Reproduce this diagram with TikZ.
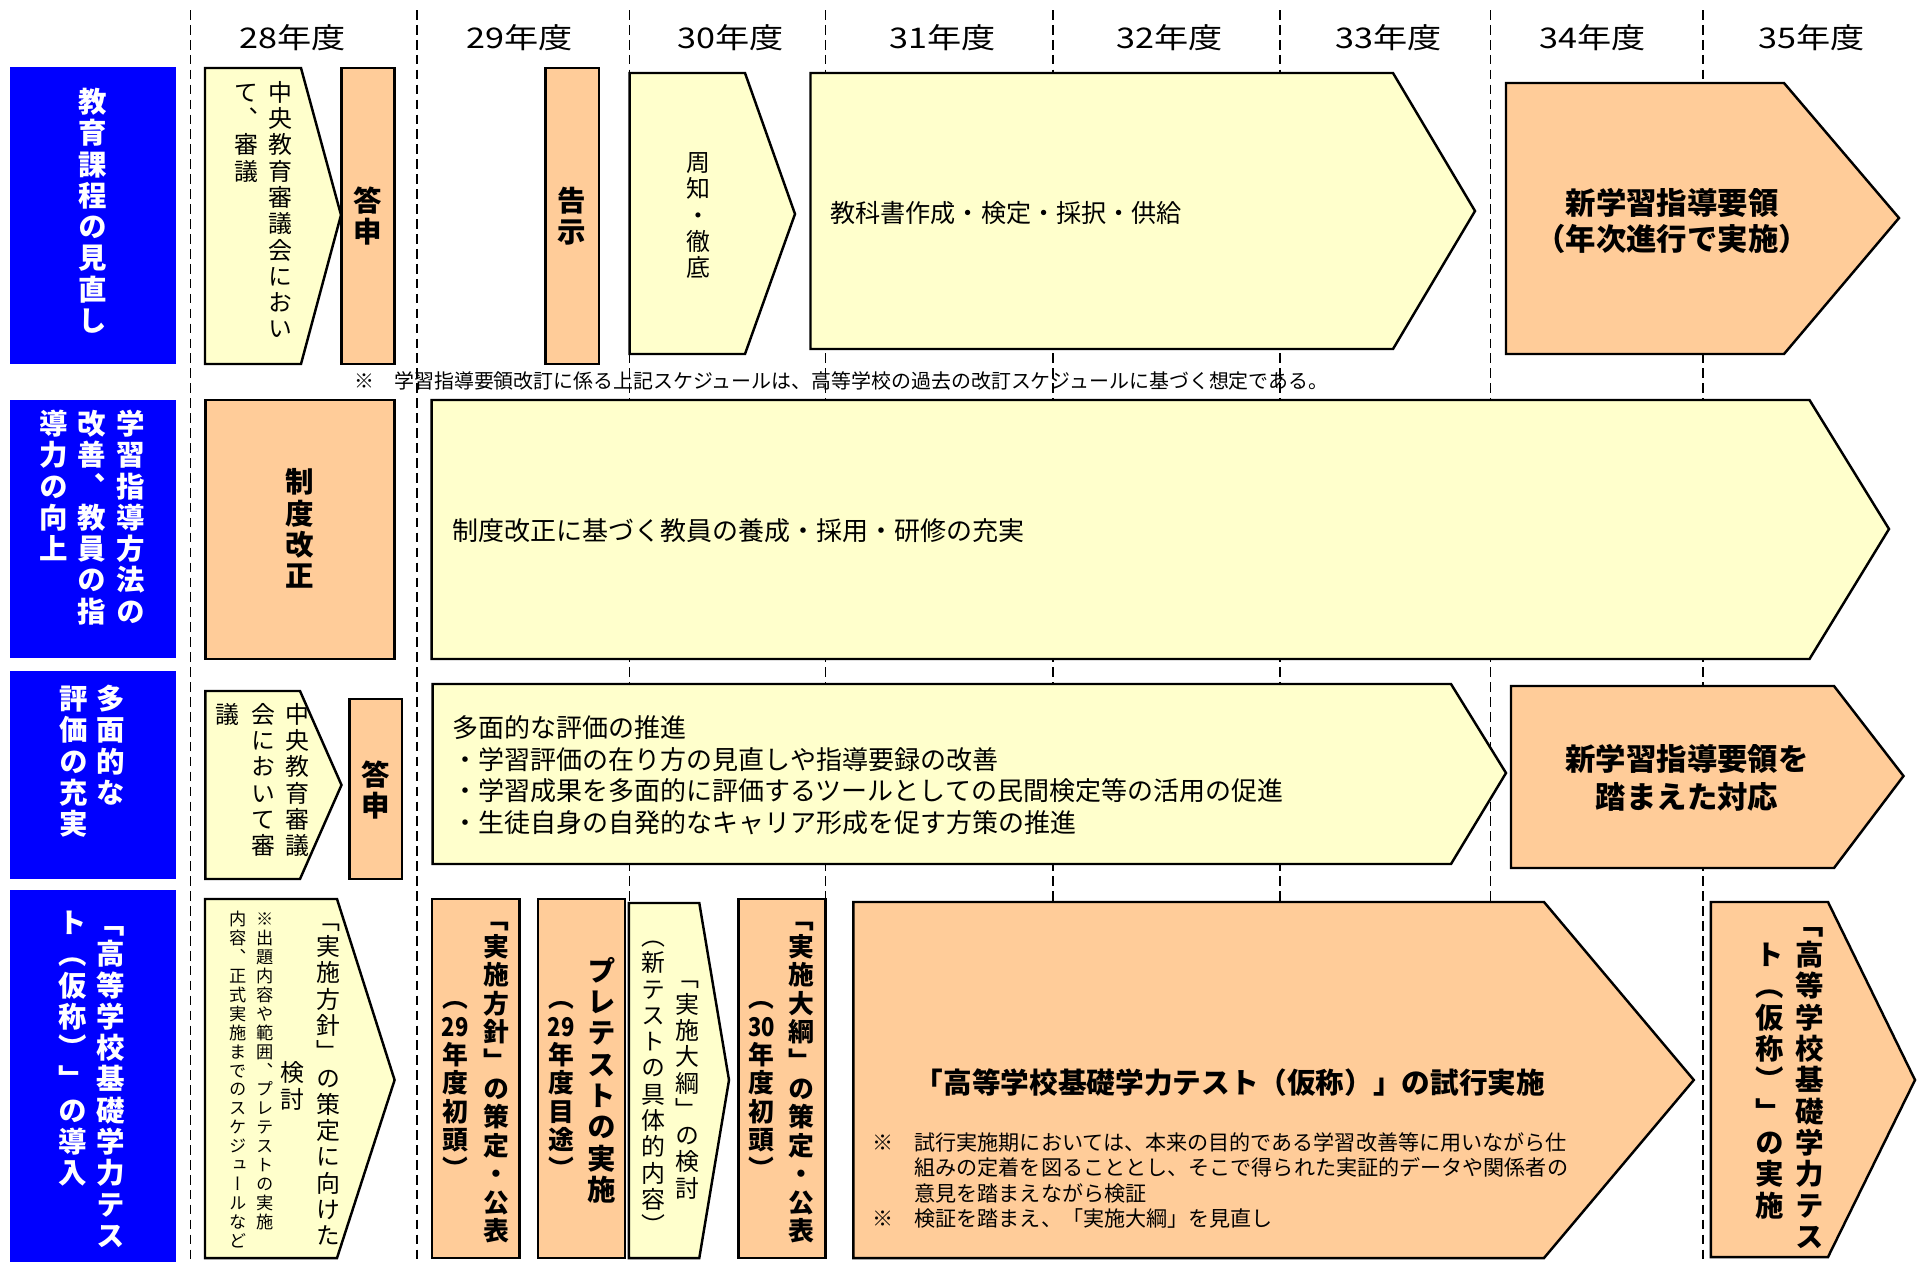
\documentclass[tikz,border=0pt]{standalone}
\usepackage{fontspec}
\usepackage{graphicx}
\usepackage{tikz}
\usetikzlibrary{positioning}
\setmainfont{Noto Sans CJK JP}
\newfontfamily\vjp[RawFeature={+vert}]{Noto Sans CJK JP}
\newfontfamily\yearfont[FakeStretch=1.2]{Noto Sans CJK JP}
\definecolor{labblue}{RGB}{0,0,255}
\definecolor{boxyellow}{RGB}{255,255,204}
\definecolor{boxorange}{RGB}{255,204,153}

% vertical text, one glyph per cell
\newcommand\vcell[1]{\hbox to 1em{\hss\vrule width 0pt height .88em depth .12em\relax#1\hss}}
\def\vcolnext#1{\ifx\relax#1\else\vcell{#1}\vskip.1em\expandafter\vcolnext\fi}
\newcommand\vcol[1]{\vbox{\offinterlineskip\vcolnext#1\relax\unskip}}
\newcommand\tcy[1]{\scalebox{.85}[1]{#1}}

\begin{document}
\begin{tikzpicture}[
    x=0.02cm,
    y=-0.02cm,
    yearline/.style={
        draw=black,
        line width=0.9pt,
        dash pattern=on 5.5pt off 3pt
    },
    bluebox/.style={
        fill=labblue
    },
    yellowbox/.style={
        fill=boxyellow,
        draw=black,
        line width=1.4pt
    },
    orangebox/.style={
        fill=boxorange,
        draw=black,
        line width=1.4pt
    },
    yearlab/.style={
        inner sep=0pt,
        font=\yearfont\fontsize{16.2pt}{18pt}\selectfont
    },
    vlab/.style={
        inner sep=0pt,
        text=white,
        font=\vjp\bfseries\fontsize{16.2pt}{18pt}\selectfont
    },
    vbold/.style={
        inner sep=0pt,
        font=\vjp\bfseries\fontsize{16.2pt}{18pt}\selectfont
    },
    vplain/.style={
        inner sep=0pt,
        font=\vjp\fontsize{13.6pt}{16pt}\selectfont
    },
    vsmall/.style={
        inner sep=0pt,
        font=\vjp\fontsize{9.8pt}{12pt}\selectfont
    },
    htext/.style={
        inner sep=0pt,
        align=left,
        font=\fontsize{14.8pt}{18pt}\selectfont
    },
    hbold/.style={
        inner sep=0pt,
        align=center,
        font=\bfseries\fontsize{17.3pt}{21pt}\selectfont
    },
    notetext/.style={
        inner sep=0pt,
        font=\fontsize{12pt}{14.45pt}\selectfont
    }
]
\useasboundingbox (0,0) rectangle (1917,1262);

% year columns
\draw[yearline] (190.7,10) -- (190.7,1262);
\draw[yearline] (416.9,10) -- (416.9,1262);
\draw[yearline] (629.6,10) -- (629.6,1262);
\draw[yearline] (825.3,10) -- (825.3,1262);
\draw[yearline] (1052.7,10) -- (1052.7,1262);
\draw[yearline] (1280,10) -- (1280,1262);
\draw[yearline] (1490.5,10) -- (1490.5,1262);
\draw[yearline] (1703,10) -- (1703,1262);

\node[yearlab] (y28) at (292.9,38) {28年度};
\node[yearlab] (y29) at (519.4,38) {29年度};
\node[yearlab] (y30) at (730.6,38) {30年度};
\node[yearlab] (y31) at (942.4,38) {31年度};
\node[yearlab] (y32) at (1169.8,38) {32年度};
\node[yearlab] (y33) at (1389,38) {33年度};
\node[yearlab] (y34) at (1593,38) {34年度};
\node[yearlab] (y35) at (1812,38) {35年度};

% Row 1: curriculum review
\fill[bluebox] (10,67) rectangle (176,364);
\draw[yellowbox] (205,68) -- (301,68) -- (341,215) -- (301,364) -- (205,364) -- cycle;
\draw[orangebox] (341.5,68) rectangle (394.4,364);
\draw[orangebox] (545.5,68) rectangle (598.8,364);
\draw[yellowbox] (629.6,73) -- (745,73) -- (795,214) -- (745,354) -- (629.6,354) -- cycle;
\draw[yellowbox] (810.5,73) -- (1393,73) -- (1475,211) -- (1393,349) -- (810.5,349) -- cycle;
\draw[orangebox] (1506,83) -- (1784,83) -- (1899,218) -- (1784,354) -- (1506,354) -- cycle;

\node[vlab, anchor=north] (r1lab) at (93,87) {\vcol{教育課程の見直し}};
\node[vplain, anchor=north] (r1a1) at (280,80) {\vcol{中央教育審議会におい}};
\node[vplain, anchor=north] (r1a2) at (246,80) {\vcol{て、審議}};
\node[vbold] (r1b) at (368,216) {\vcol{答申}};
\node[vbold] (r1c) at (572,216) {\vcol{告示}};
\node[vplain] (r1d) at (698,215) {\vcol{周知・徹底}};
\node[htext, font=\fontsize{14.3pt}{18pt}\selectfont, anchor=west] (r1e) at (830,213) {教科書作成・検定・採択・供給};
\node[hbold] (r1f) at (1672,221) {新学習指導要領\\（年次進行で実施）};
\node[notetext, font=\fontsize{11.35pt}{13pt}\selectfont, anchor=west] (note1) at (354,381)
    {※　学習指導要領改訂に係る上記スケジュールは、高等学校の過去の改訂スケジュールに基づく想定である。};

% Row 2: teaching methods
\fill[bluebox] (10,400) rectangle (176,658);
\draw[orangebox] (205.4,400) rectangle (394.6,659);
\draw[yellowbox] (431.6,400) -- (1809.5,400) -- (1889,529) -- (1809.5,659) -- (431.6,659) -- cycle;

\node[vlab, anchor=north] (r2lab1) at (131,409) {\vcol{学習指導方法の}};
\node[vlab, anchor=north] (r2lab2) at (91.5,409) {\vcol{改善、教員の指}};
\node[vlab, anchor=north] (r2lab3) at (53.6,409) {\vcol{導力の向上}};
\node[vbold] (r2a) at (300,529) {\vcol{制度改正}};
\node[htext, anchor=west] (r2b) at (452,531) {制度改正に基づく教員の養成・採用・研修の充実};

% Row 3: evaluation
\fill[bluebox] (10,671) rectangle (176,879);
\draw[yellowbox] (205.4,691) -- (300,691) -- (341.5,785) -- (300,879) -- (205.4,879) -- cycle;
\draw[orangebox] (349.6,699) rectangle (401.8,879);
\draw[yellowbox] (432.6,684) -- (1451,684) -- (1506,773) -- (1451,864) -- (432.6,864) -- cycle;
\draw[orangebox] (1511,686) -- (1834,686) -- (1903.5,776) -- (1834,868) -- (1511,868) -- cycle;

\node[vlab, anchor=north] (r3lab1) at (110.7,684) {\vcol{多面的な}};
\node[vlab, anchor=north] (r3lab2) at (73.7,684) {\vcol{評価の充実}};
\node[vplain, anchor=north] (r3a1) at (297,702) {\vcol{中央教育審議}};
\node[vplain, anchor=north] (r3a2) at (263.4,702) {\vcol{会において審}};
\node[vplain, anchor=north] (r3a3) at (227.7,702) {\vcol{議}};
\node[vbold] (r3b) at (375.7,790) {\vcol{答申}};
\node[htext, anchor=west] (r3c) at (452,775) {多面的な評価の推進\\
    ・学習評価の在り方の見直しや指導要録の改善\\
    ・学習成果を多面的に評価するツールとしての民間検定等の活用の促進\\
    ・生徒自身の自発的なキャリア形成を促す方策の推進};
\node[hbold, font=\bfseries\fontsize{17.3pt}{22pt}\selectfont] (r3d) at (1687,778) {新学習指導要領を\\踏まえた対応};

% Row 4: basic academic test
\fill[bluebox] (10,890) rectangle (176,1262);
\draw[yellowbox] (205,899) -- (337,899) -- (394.6,1080) -- (337,1258) -- (205,1258) -- cycle;
\draw[orangebox] (432,899) rectangle (519.3,1258);
\draw[orangebox] (538,899) rectangle (625,1258);
\draw[yellowbox] (628.8,903) -- (699.3,903) -- (729,1080) -- (699.3,1258) -- (628.8,1258) -- cycle;
\draw[orangebox] (738.3,899) rectangle (825.6,1258);
\draw[orangebox] (853.4,902) -- (1544,902) -- (1693.8,1080) -- (1544,1258) -- (853.4,1258) -- cycle;
\draw[orangebox] (1710.8,902) -- (1828,902) -- (1915,1080) -- (1828,1257) -- (1710.8,1257) -- cycle;

\node[vlab, anchor=north] (r4lab1) at (111,908) {\vcol{「高等学校基礎学力テス}};
\node[vlab, anchor=north] (r4lab2) at (73,908) {\vcol{ト（仮称）」の導入}};
\node[vplain, anchor=north] (r4a1) at (328,908) {\vcol{「実施方針」の策定に向けた}};
\node[vplain] (r4a2) at (292.7,1086) {\vcol{検討}};
\node[vsmall, anchor=north] (r4a3) at (265.6,910) {\vcol{※出題内容や範囲、プレテストの実施}};
\node[vsmall, anchor=north] (r4a4) at (238.5,910) {\vcol{内容、正式実施までのスケジュールなど}};
\node[vbold, font=\vjp\bfseries\fontsize{14.7pt}{17pt}\selectfont, anchor=north] (r4b1) at (496,905)
    {\vcol{「実施方針」の策定・公表}};
\node[vbold, font=\vjp\bfseries\fontsize{14.7pt}{17pt}\selectfont] (r4b2) at (455,1083)
    {\vcol{（{\tcy{29}}年度初頭）}};
\node[vbold] (r4c1) at (601.7,1080) {\vcol{プレテストの実施}};
\node[vbold, font=\vjp\bfseries\fontsize{14.7pt}{17pt}\selectfont] (r4c2) at (561,1083)
    {\vcol{（{\tcy{29}}年度目途）}};
\node[vplain] (r4d1) at (687.4,1083) {\vcol{「実施大綱」の検討}};
\node[vplain] (r4d2) at (653,1081) {\vcol{（新テストの具体的内容）}};
\node[vbold, font=\vjp\bfseries\fontsize{14.7pt}{17pt}\selectfont, anchor=north] (r4e1) at (801.2,905)
    {\vcol{「実施大綱」の策定・公表}};
\node[vbold, font=\vjp\bfseries\fontsize{14.7pt}{17pt}\selectfont] (r4e2) at (761.6,1083)
    {\vcol{（{\tcy{30}}年度初頭）}};
\node[hbold, font=\bfseries\fontsize{16.3pt}{19pt}\selectfont] (r4f) at (1230,1083)
    {「高等学校基礎学力テスト（仮称）」の試行実施};
\node[notetext, anchor=north west] (r4note) at (872,1132) {%
    \begin{tabular}{@{}l@{}l@{}}
    ※　& 試行実施期においては、本来の目的である学習改善等に用いながら仕\\
       & 組みの定着を図ることとし、そこで得られた実証的データや関係者の\\
       & 意見を踏まえながら検証\\
    ※　& 検証を踏まえ、「実施大綱」を見直し
    \end{tabular}};
\node[vbold] (r4h1) at (1809.5,1080) {\vcol{「高等学校基礎学力テス}};
\node[vbold] (r4h2) at (1770,1080) {\vcol{ト（仮称）」の実施}};

\end{tikzpicture}
\end{document}
